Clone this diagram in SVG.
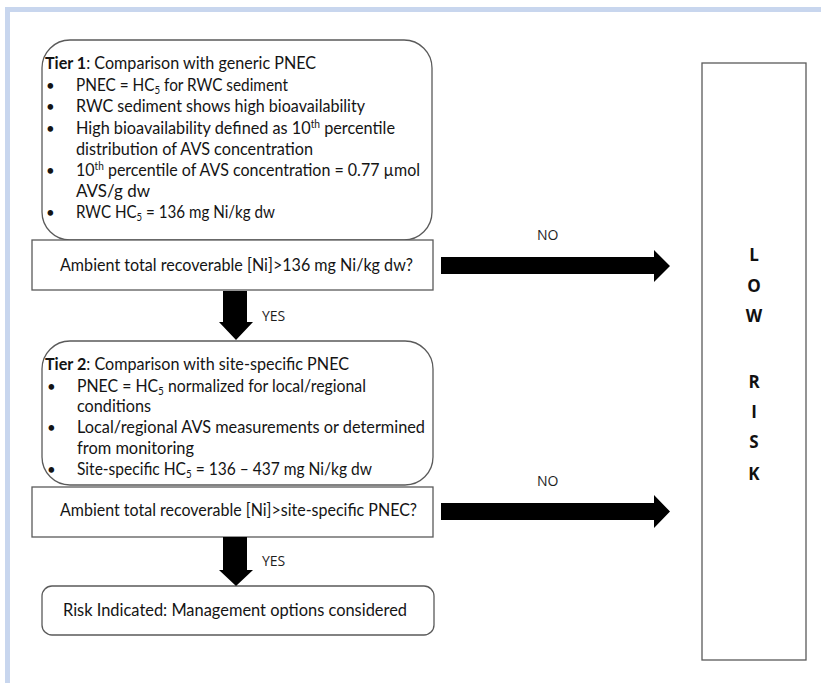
<svg xmlns="http://www.w3.org/2000/svg" width="821" height="683" viewBox="0 0 821 683">
<style>
.box{fill:#fff;stroke:#5a5a5a;stroke-width:1.3}
.t{font-family:Lato,"Open Sans","Liberation Sans",sans-serif;font-size:17.5px;fill:#141414}
.b{font-family:Lato,"Liberation Sans",sans-serif;font-size:15px;fill:#141414}
.lbl{font-family:"Open Sans","Liberation Sans",sans-serif;font-size:14px;fill:#1e1e1e}
.lr{font-family:"Open Sans","Liberation Sans",sans-serif;font-size:17px;font-weight:bold;fill:#111;text-anchor:middle}
.arr{fill:#000}
</style>
<rect x="0" y="0" width="821" height="683" fill="#fff"/>
<rect x="5" y="7" width="816" height="5" fill="#c8d6ee"/>
<rect x="5" y="7" width="5" height="676" fill="#c8d6ee"/>

<g id="tier1">
<rect class="box" x="42" y="40" width="390" height="200" rx="28"/>
<text class="t" x="45" y="69" textLength="271" lengthAdjust="spacingAndGlyphs"><tspan font-weight="bold">Tier 1</tspan>: Comparison with generic PNEC</text>
<text class="b" x="46" y="91">•</text>
<text class="t" x="76" y="91" textLength="212" lengthAdjust="spacingAndGlyphs">PNEC = HC<tspan font-size="11" dy="3">5</tspan><tspan dy="-3"> for RWC sediment</tspan></text>
<text class="b" x="46" y="112">•</text>
<text class="t" x="76" y="112" textLength="289" lengthAdjust="spacingAndGlyphs">RWC sediment shows high bioavailability</text>
<text class="b" x="46" y="134">•</text>
<text class="t" x="76" y="134" textLength="319" lengthAdjust="spacingAndGlyphs">High bioavailability defined as 10<tspan font-size="11" dy="-6">th</tspan><tspan dy="6"> percentile</tspan></text>
<text class="t" x="76" y="155" textLength="237" lengthAdjust="spacingAndGlyphs">distribution of AVS concentration</text>
<text class="b" x="46" y="176">•</text>
<text class="t" x="76" y="176" textLength="344" lengthAdjust="spacingAndGlyphs">10<tspan font-size="11" dy="-6">th</tspan><tspan dy="6"> percentile of AVS concentration = 0.77 µmol</tspan></text>
<text class="t" x="76" y="197" textLength="74" lengthAdjust="spacingAndGlyphs">AVS/g dw</text>
<text class="b" x="46" y="218">•</text>
<text class="t" x="76" y="218" textLength="199" lengthAdjust="spacingAndGlyphs">RWC HC<tspan font-size="11" dy="3">5</tspan><tspan dy="-3"> = 136 mg Ni/kg dw</tspan></text>
</g>

<g id="q1">
<rect class="box" x="32" y="240" width="401" height="50"/>
<text class="t" x="60" y="271" textLength="353" lengthAdjust="spacingAndGlyphs">Ambient total recoverable [Ni]&gt;136 mg Ni/kg dw?</text>
</g>

<g id="tier2">
<rect class="box" x="42" y="341" width="391" height="144" rx="28"/>
<text class="t" x="45" y="370" textLength="304" lengthAdjust="spacingAndGlyphs"><tspan font-weight="bold">Tier 2</tspan>: Comparison with site-specific PNEC</text>
<text class="b" x="47" y="392">•</text>
<text class="t" x="77" y="392" textLength="289" lengthAdjust="spacingAndGlyphs">PNEC = HC<tspan font-size="11" dy="3">5</tspan><tspan dy="-3"> normalized for local/regional</tspan></text>
<text class="t" x="77" y="412" textLength="74" lengthAdjust="spacingAndGlyphs">conditions</text>
<text class="b" x="47" y="433">•</text>
<text class="t" x="77" y="433" textLength="348" lengthAdjust="spacingAndGlyphs">Local/regional AVS measurements or determined</text>
<text class="t" x="77" y="454" textLength="117" lengthAdjust="spacingAndGlyphs">from monitoring</text>
<text class="b" x="47" y="475">•</text>
<text class="t" x="77" y="475" textLength="295" lengthAdjust="spacingAndGlyphs">Site-specific HC<tspan font-size="11" dy="3">5</tspan><tspan dy="-3"> = 136 – 437 mg Ni/kg dw</tspan></text>
</g>

<g id="q2">
<rect class="box" x="32" y="487" width="401" height="50"/>
<text class="t" x="60" y="516" textLength="357" lengthAdjust="spacingAndGlyphs">Ambient total recoverable [Ni]&gt;site-specific PNEC?</text>
</g>

<g id="risk">
<rect class="box" x="42" y="586" width="392" height="49" rx="10"/>
<text class="t" x="63" y="616" textLength="344" lengthAdjust="spacingAndGlyphs">Risk Indicated: Management options considered</text>
</g>

<g id="lowrisk">
<rect class="box" x="702" y="63" width="104" height="597"/>
<text class="lr" x="754" y="261">L</text>
<text class="lr" x="754" y="292">O</text>
<text class="lr" x="754" y="322">W</text>
<text class="lr" x="754" y="388">R</text>
<text class="lr" x="754" y="418">I</text>
<text class="lr" x="754" y="448">S</text>
<text class="lr" x="754" y="480">K</text>
</g>

<g id="connectors">
<polygon class="arr" points="223,291 247,291 247,322 253,322 236,340 219,322 223,322"/>
<text class="lbl" x="262" y="321">YES</text>
<polygon class="arr" points="223,537 247,537 247,570 253,570 236,586 219,570 223,570"/>
<text class="lbl" x="262" y="566">YES</text>
<polygon class="arr" points="441,257 654,257 654,250 670,266 654,282 654,274 441,274"/>
<text class="lbl" x="537" y="240">NO</text>
<polygon class="arr" points="441,503 654,503 654,495 670,511.5 654,528 654,520 441,520"/>
<text class="lbl" x="537" y="486">NO</text>
</g>
</svg>
